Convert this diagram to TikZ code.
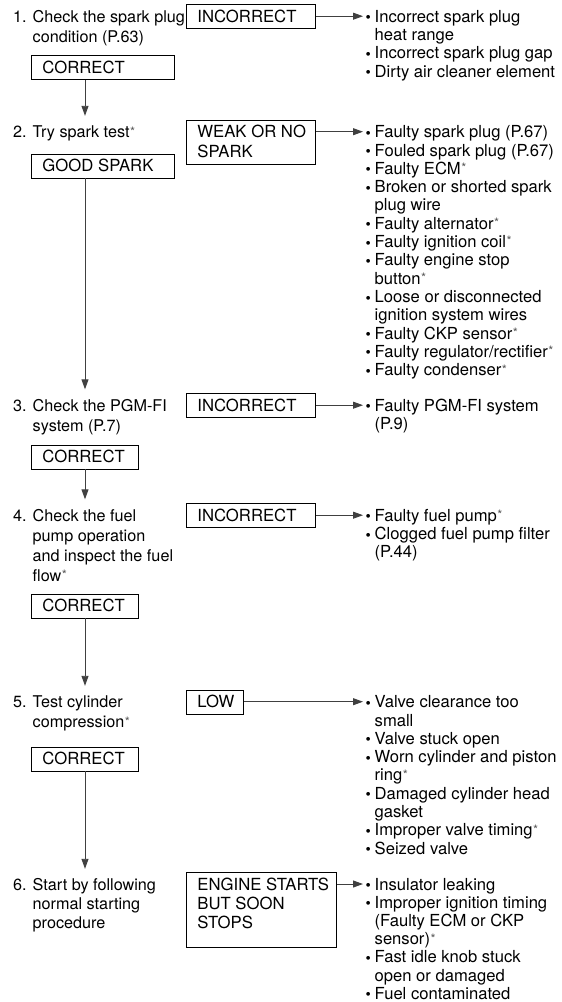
\documentclass[tikz,border=0pt]{standalone}
\usepackage{fontspec}
\setmainfont{TeX Gyre Heros}
\usetikzlibrary{arrows.meta}
\newcommand\stc{\hspace{0.5pt}{\color{black!65}\fontsize{13}{13}\selectfont\raisebox{1.6pt}{*}}}
\newcommand\bul{\makebox[9pt][l]{\fontsize{15}{15}\selectfont\raisebox{-0.6pt}{•}}}
\newcommand\lst[1]{\begin{tabular}[t]{@{}l@{}l@{}}#1\end{tabular}}
\newcommand\stp[2]{\begin{tabular}[t]{@{}l@{ }l@{}}#1&#2\end{tabular}}
\newcommand\bx[2]{\makebox[#1][l]{\begin{tabular}[t]{@{}l@{}}#2\end{tabular}}}
\tikzset{
  stepnode/.style={anchor=base west, inner sep=0pt, font=\fontsize{16.2}{20}\selectfont},
  listnode/.style={anchor=base west, inner sep=0pt, font=\fontsize{16.6}{18.3}\selectfont},
  boxnode/.style={draw=black, line width=0.9pt, anchor=base west, inner xsep=11.3pt, inner ysep=0pt,
    text height=17.7pt, text depth=6.3pt, font=\fontsize{16.7}{20}\selectfont},
  arr/.style={draw=black!75, line width=0.9pt, -{Triangle[length=10pt,width=7pt]}},
  varr/.style={arr, shorten >=7.7pt},
}
\begin{document}
\begin{tikzpicture}[x=1pt,y=1pt]
\useasboundingbox (0,0) rectangle (562,-1002);
\coordinate (X) at (85,0);
% step 1
\node[stepnode] (s1) at (13,-22.2) {\stp{1.}{Check the spark plug\\&condition (P.63)}};
\node[boxnode] (i1) at (185.7,-22.2) {\bx{106.7pt}{INCORRECT}};
\node[listnode] (l1) at (365.5,-22.2) {\lst{\bul&Incorrect spark plug\\&heat range\\\bul&Incorrect spark plug gap\\\bul&Dirty air cleaner element}};
\node[boxnode] (c1) at (30.7,-73.4) {\bx{120.7pt}{CORRECT}};
% step 2
\node[stepnode] (s2) at (13,-137.7) {\stp{2.}{Try spark test\stc}};
\node[boxnode, text depth=26.3pt] (w2) at (185.7,-137.7) {\bx{106.7pt}{WEAK OR NO\\SPARK}};
\node[listnode] (l2) at (365.5,-137.7) {\lst{\bul&Faulty spark plug (P.67)\\\bul&Fouled spark plug (P.67)\\\bul&Faulty ECM\stc\\\bul&Broken or shorted spark\\&plug wire\\\bul&Faulty alternator\stc\\\bul&Faulty ignition coil\stc\\\bul&Faulty engine stop\\&button\stc\\\bul&Loose or disconnected\\&ignition system wires\\\bul&Faulty CKP sensor\stc\\\bul&Faulty regulator/rectifier\stc\\\bul&Faulty condenser\stc}};
\node[boxnode] (g2) at (30.7,-171.7) {\bx{120.7pt}{GOOD SPARK}};
% step 3
\node[stepnode] (s3) at (13,-411.2) {\stp{3.}{Check the PGM-FI\\&system (P.7)}};
\node[boxnode] (i3) at (185.7,-411.2) {\bx{106.7pt}{INCORRECT}};
\node[listnode] (l3) at (365.5,-411.2) {\lst{\bul&Faulty PGM-FI system\\&(P.9)}};
\node[boxnode] (c3) at (30.7,-462.7) {\bx{84.7pt}{CORRECT}};
% step 4
\node[stepnode] (s4) at (13,-521.2) {\stp{4.}{Check the fuel\\&pump operation\\&and inspect the fuel\\&flow\stc}};
\node[boxnode] (i4) at (185.7,-521.2) {\bx{106.7pt}{INCORRECT}};
\node[listnode] (l4) at (365.5,-521.2) {\lst{\bul&Faulty fuel pump\stc\\\bul&Clogged fuel pump filter\\&(P.44)}};
\node[boxnode] (c4) at (30.7,-611.7) {\bx{84.7pt}{CORRECT}};
% step 5
\node[stepnode] (s5) at (13,-707.7) {\stp{5.}{Test cylinder\\&compression\stc}};
\node[boxnode] (o5) at (185.7,-707.7) {\bx{34.7pt}{LOW}};
\node[listnode] (l5) at (365.5,-707.7) {\lst{\bul&Valve clearance too\\&small\\\bul&Valve stuck open\\\bul&Worn cylinder and piston\\&ring\stc\\\bul&Damaged cylinder head\\&gasket\\\bul&Improper valve timing\stc\\\bul&Seized valve}};
\node[boxnode] (c5) at (30.7,-764.7) {\bx{84.7pt}{CORRECT}};
% step 6
\node[stepnode, font=\fontsize{16.2}{19}\selectfont] (s6) at (13,-890) {\stp{6.}{Start by following\\&normal starting\\&procedure}};
\node[boxnode, text depth=57.7pt, font=\fontsize{16.7}{19}\selectfont] (e6) at (185.7,-890) {\bx{127.7pt}{ENGINE STARTS\\BUT SOON\\STOPS}};
\node[listnode, font=\fontsize{16.6}{18.2}\selectfont] (l6) at (365.5,-890) {\lst{\bul&Insulator leaking\\\bul&Improper ignition timing\\&(Faulty ECM or CKP\\&sensor)\stc\\\bul&Fast idle knob stuck\\&open or damaged\\\bul&Fuel contaminated}};
% horizontal arrows
\foreach \b/\l in {i1/l1,w2/l2,i3/l3,i4/l4,o5/l5,e6/l6}
  \draw[arr, shorten >=2.5pt] ([yshift=6pt]\b.base east) -- ([yshift=6pt]\l.base west);
% vertical arrows
\draw[varr] (c1.south -| X) -- (s2.north -| X);
\draw[varr] (g2.south -| X) -- (s3.north -| X);
\draw[varr] (c3.south -| X) -- (s4.north -| X);
\draw[varr] (c4.south -| X) -- (s5.north -| X);
\draw[varr] (c5.south -| X) -- (s6.north -| X);
\end{tikzpicture}
\end{document}
